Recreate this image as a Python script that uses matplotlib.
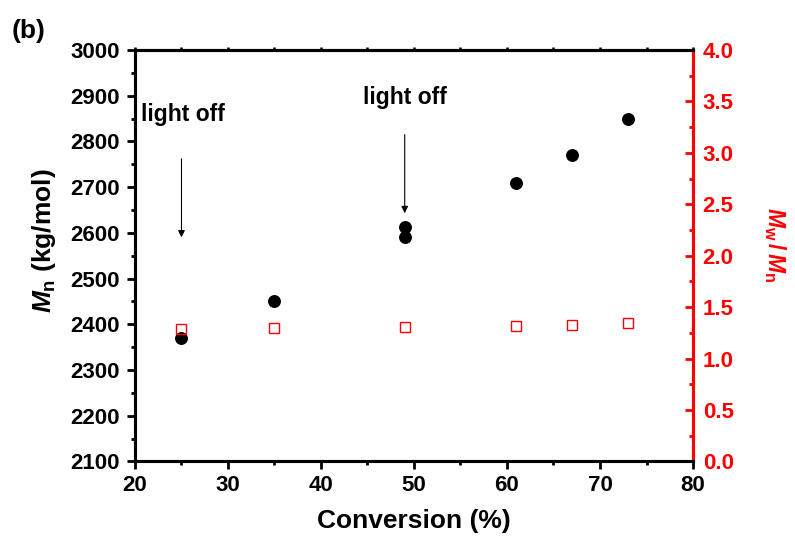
import matplotlib.pyplot as plt
from matplotlib.ticker import MultipleLocator, NullFormatter

# data
conv_mn = [25, 35, 49, 49, 61, 67, 73]
mn = [2370, 2450, 2612, 2590, 2710, 2770, 2850]
conv_pdi = [25, 35, 49, 61, 67, 73]
pdi = [1.29, 1.30, 1.31, 1.32, 1.33, 1.35]

plt.rcParams['font.family'] = ['Liberation Sans', 'DejaVu Sans']
plt.rcParams['font.weight'] = 'bold'
plt.rcParams['mathtext.fontset'] = 'custom'
plt.rcParams['mathtext.it'] = 'Liberation Sans:italic:bold'
plt.rcParams['mathtext.rm'] = 'Liberation Sans:bold'

fig = plt.figure(figsize=(7.95, 5.41), dpi=100)
ax = fig.add_axes([0.1698, 0.1470, 0.7019, 0.7606])
ax2 = ax.twinx()

ax.plot(conv_mn, mn, 'o', color='black', markersize=8.3, zorder=3)
ax2.plot(conv_pdi, pdi, 's', mfc='none', mec='red', mew=1.0, markersize=6.8)

ax.set_xlim(20, 80)
ax.set_ylim(2100, 3000)
ax2.set_ylim(0, 4)

ax.xaxis.set_major_locator(MultipleLocator(10))
ax.xaxis.set_minor_locator(MultipleLocator(5))
ax.yaxis.set_major_locator(MultipleLocator(100))
ax.yaxis.set_minor_locator(MultipleLocator(50))
ax2.yaxis.set_major_locator(MultipleLocator(0.5))
ax2.yaxis.set_minor_locator(MultipleLocator(0.25))
ax2.yaxis.set_major_formatter(plt.FormatStrFormatter('%.1f'))

for a in (ax, ax2):
    for s in a.spines.values():
        s.set_linewidth(2.2)
ax2.spines['right'].set_color('red')

ax.tick_params(axis='both', which='major', direction='out', length=6, width=2,
               labelsize=16, pad=5)
ax.tick_params(axis='both', which='minor', direction='out', length=3, width=2)
ax.tick_params(axis='x', which='major', pad=4)

# short ticks on the top edge
top = ax.secondary_xaxis('top')
top.xaxis.set_major_locator(MultipleLocator(5))
top.xaxis.set_major_formatter(NullFormatter())
top.tick_params(axis='x', direction='out', length=2.5, width=1.8)
top.spines['top'].set_linewidth(2.2)

ax2.tick_params(axis='y', which='major', direction='in', length=6, width=2,
                labelsize=16, colors='red', pad=7)
ax2.tick_params(axis='y', which='minor', direction='in', length=3, width=2, colors='red')

ax.set_xlabel('Conversion (%)', fontsize=19, fontweight='bold', labelpad=9)
ax.set_ylabel(r'$M_\mathrm{n}$ (kg/mol)', fontsize=19, fontweight='bold')
ax.yaxis.set_label_coords(-0.138, 0.536)
ax2.set_ylabel(r'$M_\mathrm{w}\,/\,M_\mathrm{n}$', fontsize=16.5, fontweight='bold',
               color='red', rotation=270)
ax2.yaxis.set_label_coords(1.17, 0.526)

# light off annotations
ax.annotate('', xy=(25, 2584), xytext=(25, 2768),
            arrowprops=dict(arrowstyle='-|>', color='black', lw=0.8, mutation_scale=10))
ax.annotate('', xy=(49, 2637), xytext=(49, 2821),
            arrowprops=dict(arrowstyle='-|>', color='black', lw=0.8, mutation_scale=10))
ax.text(25.2, 2858, 'light off', fontsize=16.5, fontweight='bold', ha='center', va='center')
ax.text(49.0, 2895, 'light off', fontsize=16.5, fontweight='bold', ha='center', va='center')

fig.text(0.014, 0.943, '(b)', fontsize=19, fontweight='bold', va='center', ha='left')

fig.savefig('out.png', dpi=100)
